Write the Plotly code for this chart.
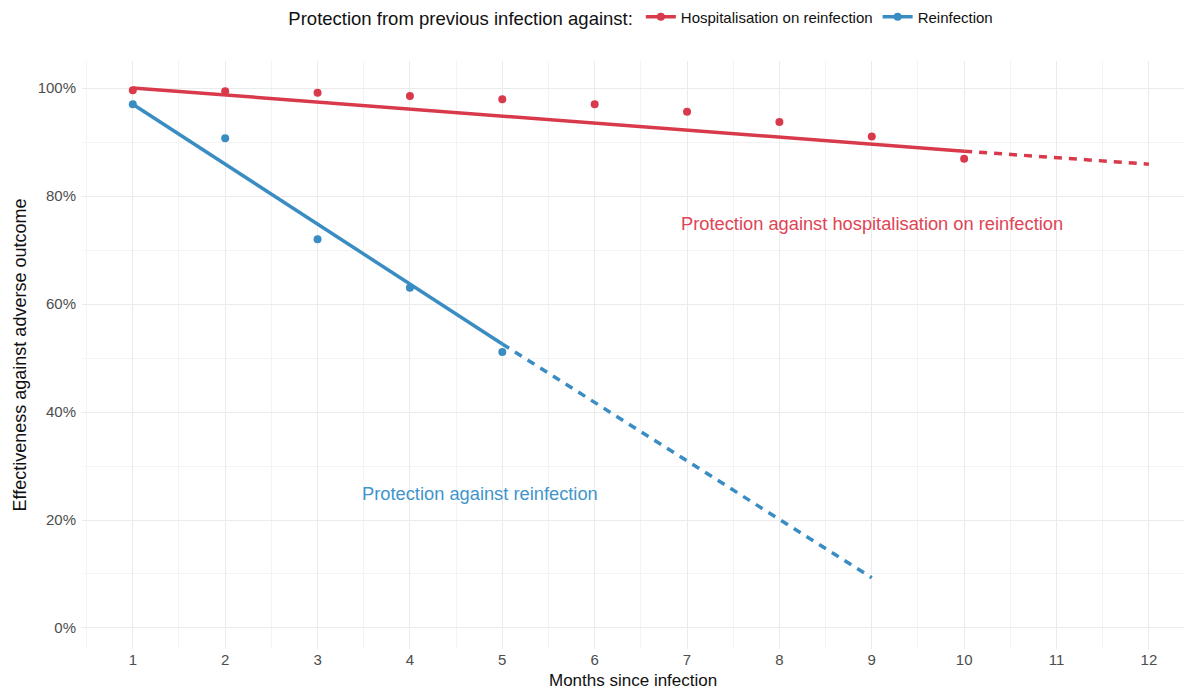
import plotly.graph_objects as go

months = [1, 2, 3, 4, 5, 6, 7, 8, 9, 10]
hosp_points = [0.996, 0.994, 0.991, 0.985, 0.979, 0.970, 0.956, 0.937, 0.910, 0.869]
reinf_months = [1, 2, 3, 4, 5]
reinf_points = [0.970, 0.907, 0.720, 0.630, 0.511]

hosp_fit_x = [1, 10]
hosp_fit_y = [1.000, 0.883]
hosp_proj_x = [10, 12]
hosp_proj_y = [0.883, 0.859]

reinf_fit_x = [1, 5]
reinf_fit_y = [0.970, 0.526]
reinf_proj_x = [5, 9]
reinf_proj_y = [0.526, 0.093]

x_ticks = list(range(1, 13))
y_ticks = [0, 0.2, 0.4, 0.6, 0.8, 1.0]

RED = "#D93A4B"
BLUE = "#3A8DC3"
FONT = "Liberation Sans, Arial, sans-serif"

fig = go.Figure()

# Legend entries
fig.add_trace(go.Scatter(x=[None], y=[None], mode="lines+markers", name="Hospitalisation on reinfection",
                         line=dict(color=RED, width=3.5), marker=dict(color=RED, size=8)))
fig.add_trace(go.Scatter(x=[None], y=[None], mode="lines+markers", name="Reinfection",
                         line=dict(color=BLUE, width=3.5), marker=dict(color=BLUE, size=8)))

# Fitted lines
fig.add_trace(go.Scatter(x=hosp_fit_x, y=hosp_fit_y, mode="lines", showlegend=False,
                         line=dict(color=RED, width=3.5)))
fig.add_trace(go.Scatter(x=hosp_proj_x, y=hosp_proj_y, mode="lines", showlegend=False,
                         line=dict(color=RED, width=3.5, dash="8px,7px")))
fig.add_trace(go.Scatter(x=reinf_fit_x, y=reinf_fit_y, mode="lines", showlegend=False,
                         line=dict(color=BLUE, width=3.5)))
fig.add_trace(go.Scatter(x=reinf_proj_x, y=reinf_proj_y, mode="lines", showlegend=False,
                         line=dict(color=BLUE, width=3.5, dash="8px,7px")))

# Points
fig.add_trace(go.Scatter(x=months, y=hosp_points, mode="markers", showlegend=False,
                         marker=dict(color=RED, size=8)))
fig.add_trace(go.Scatter(x=reinf_months, y=reinf_points, mode="markers", showlegend=False,
                         marker=dict(color=BLUE, size=8)))

fig.add_annotation(x=9.0, y=0.75, text="Protection against hospitalisation on reinfection",
                   showarrow=False, font=dict(color="#E04455", size=18.3, family=FONT))
fig.add_annotation(x=4.76, y=0.25, text="Protection against reinfection",
                   showarrow=False, font=dict(color="#3F95CC", size=18.3, family=FONT))

# Axis titles
fig.add_annotation(xref="paper", yref="paper", x=0.5, y=-0.0710, yanchor="bottom", xanchor="center",
                   text="Months since infection", showarrow=False, borderpad=0,
                   font=dict(size=17, color="#111111", family=FONT))
fig.add_annotation(xref="paper", yref="paper", x=-0.0559, y=0.5, yanchor="middle", xanchor="center",
                   text="Effectiveness against adverse outcome", showarrow=False, textangle=-90,
                   font=dict(size=18, color="#111111", family=FONT))

fig.update_layout(
    plot_bgcolor="white",
    paper_bgcolor="white",
    font=dict(family=FONT, color="#222222"),
    margin=dict(l=74, r=0, t=53, b=42, autoexpand=False),
    legend=dict(orientation="h", x=0.5085, xanchor="center", y=1.073, yanchor="middle",
                title=dict(text="Protection from previous infection against:", font=dict(size=18.5, color="#111111")),
                font=dict(size=15, color="#111111"), bgcolor="rgba(0,0,0,0)", itemwidth=30),
    xaxis=dict(range=[0.45, 12.38], tickmode="array", tickvals=x_ticks, ticktext=[str(v) for v in x_ticks],
               showgrid=True, gridcolor="#EBEBEB", gridwidth=1.2, zeroline=False, showline=False,
               tickfont=dict(size=15, color="#4D4D4D"), ticks="", ticklen=0, automargin=False,
               minor=dict(tickmode="array", tickvals=[v + 0.5 for v in range(0, 13)], showgrid=True,
                          gridcolor="#F3F3F3", gridwidth=1)),
    yaxis=dict(range=[-0.0389, 1.05], tickmode="array", tickvals=y_ticks, tickformat=".0%",
               showgrid=True, gridcolor="#EBEBEB", gridwidth=1.2, zeroline=False, showline=False,
               tickfont=dict(size=15, color="#4D4D4D"), ticks="", automargin=False,
               ticklabelstandoff=5,
               minor=dict(tickmode="array", tickvals=[0.1, 0.3, 0.5, 0.7, 0.9], showgrid=True,
                          gridcolor="#F3F3F3", gridwidth=1)),
)

fig.write_html("out.html")
